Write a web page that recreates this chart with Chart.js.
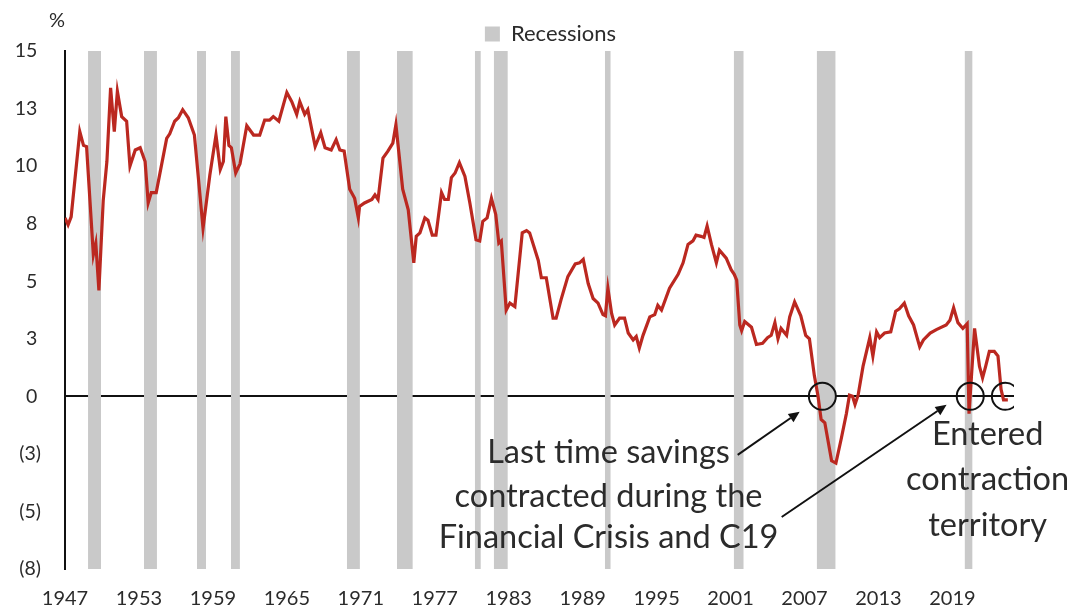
<!DOCTYPE html>
<html>
<head>
<meta charset="utf-8">
<script src="https://cdn.jsdelivr.net/npm/chart.js@4.4.1/dist/chart.umd.min.js"></script>
<style>
  html, body { margin: 0; padding: 0; background: #ffffff; }
  #wrap { position: relative; width: 1071px; height: 610px; }
  canvas { display: block; }
</style>
</head>
<body>
<div id="wrap"><canvas id="chart" width="1071" height="610"></canvas></div>
<script>
// Quarterly-ish readings of the savings rate (%), by decimal year
const years = [
  1947.0, 1947.25, 1947.5, 1948.2, 1948.5, 1948.75, 1949.3, 1949.5, 1949.75, 1950.1,
  1950.4, 1950.7, 1951.0, 1951.25, 1951.6, 1952.0, 1952.27, 1952.7, 1953.1, 1953.5,
  1953.75, 1954.0, 1954.4, 1955.25, 1955.5, 1955.9, 1956.2, 1956.55, 1957.0, 1957.5,
  1958.2, 1958.75, 1959.25, 1959.6, 1959.85, 1960.05, 1960.3, 1960.5, 1960.85, 1961.2,
  1961.75, 1962.3, 1962.8, 1963.2, 1963.6, 1963.9, 1964.35, 1965.0, 1965.4, 1965.8,
  1966.05, 1966.45, 1966.7, 1967.3, 1967.75, 1968.1, 1968.6, 1969.0, 1969.3, 1969.65,
  1970.1, 1970.5, 1970.8, 1970.9, 1971.3, 1971.9, 1972.15, 1972.4, 1972.8, 1973.2,
  1973.6, 1973.85, 1974.4, 1974.85, 1975.3, 1975.5, 1975.8, 1976.2, 1976.45, 1976.8,
  1977.1, 1977.55, 1977.8, 1978.1, 1978.35, 1978.65, 1979.0, 1979.45, 1979.85, 1980.35,
  1980.65, 1980.9, 1981.25, 1981.6, 1981.95, 1982.2, 1982.4, 1982.8, 1983.1, 1983.5,
  1984.1, 1984.45, 1984.7, 1985.4, 1985.65, 1986.05, 1986.6, 1986.85, 1987.25, 1987.8,
  1988.4, 1988.75, 1989.05, 1989.45, 1989.85, 1990.25, 1990.65, 1990.85, 1991.05, 1991.35,
  1991.6, 1992.0, 1992.4, 1992.7, 1993.1, 1993.35, 1993.6, 1993.9, 1994.45, 1994.85,
  1995.1, 1995.4, 1996.05, 1996.75, 1997.15, 1997.55, 1997.95, 1998.2, 1998.6, 1998.85,
  1999.1, 1999.45, 1999.85, 2000.1, 2000.65, 2001.05, 2001.3, 2001.5, 2001.75, 2001.9,
  2002.15, 2002.7, 2003.1, 2003.6, 2004.0, 2004.3, 2004.6, 2004.85, 2005.1, 2005.55,
  2005.8, 2006.2, 2006.7, 2007.1, 2007.4, 2007.8, 2008.1, 2008.35, 2008.65, 2009.2,
  2009.55, 2010.0, 2010.4, 2010.65, 2010.9, 2011.1, 2011.35, 2011.75, 2012.3, 2012.55,
  2012.85, 2013.1, 2013.5, 2014.0, 2014.4, 2014.7, 2015.1, 2015.45, 2015.85, 2016.35,
  2016.65, 2017.2, 2017.7, 2018.5, 2018.8, 2019.1, 2019.45, 2019.85, 2020.2, 2020.35,
  2020.8, 2021.2, 2021.45, 2021.7, 2022.0, 2022.4, 2022.7, 2022.95, 2023.15, 2023.5
];
const savingsRate = [
  7.75, 7.45, 7.8, 11.5, 10.9, 10.85, 6.15, 6.65, 4.6, 8.5,
  10.2, 13.4, 11.5, 13.25, 12.15, 11.95, 10.0, 10.7, 10.8, 10.2,
  8.4, 8.85, 8.85, 11.2, 11.4, 11.95, 12.1, 12.45, 12.1, 11.35,
  7.3, 9.6, 11.35, 9.85, 10.2, 12.15, 10.9, 10.8, 9.7, 10.1,
  11.75, 11.35, 11.35, 12.0, 12.0, 12.15, 11.95, 13.2, 12.8, 12.25,
  12.8, 12.25, 12.45, 10.85, 11.45, 10.8, 10.7, 11.15, 10.7, 10.65,
  9.0, 8.6, 7.75, 8.25, 8.4, 8.55, 8.75, 8.55, 10.35, 10.65,
  11.0, 11.8, 9.0, 8.1, 5.8, 6.95, 7.1, 7.75, 7.65, 7.0,
  7.0, 8.85, 8.55, 8.55, 9.5, 9.7, 10.15, 9.55, 8.4, 6.8,
  6.75, 7.6, 7.75, 8.6, 7.9, 6.65, 6.75, 3.75, 4.05, 3.9,
  7.1, 7.2, 7.1, 5.9, 5.15, 5.15, 3.4, 3.4, 4.2, 5.2,
  5.75, 5.8, 5.95, 4.9, 4.25, 4.05, 3.55, 3.5, 4.7, 3.6,
  3.1, 3.4, 3.4, 2.75, 2.45, 2.6, 2.1, 2.65, 3.45, 3.55,
  3.95, 3.75, 4.7, 5.3, 5.8, 6.6, 6.75, 7.0, 6.95, 6.9,
  7.4, 6.6, 5.8, 6.35, 6.0, 5.5, 5.3, 5.05, 3.1, 2.85,
  3.25, 3.0, 2.25, 2.3, 2.55, 2.65, 3.2, 2.5, 2.95, 2.65,
  3.45, 4.1, 3.5, 2.65, 2.5, 0.9, 0.0, -1.0, -1.15, -2.8,
  -2.9, -1.8, -0.75, 0.05, 0.0, -0.35, 0.05, 1.3, 2.55, 1.75,
  2.8, 2.55, 2.75, 2.8, 3.7, 3.8, 4.05, 3.5, 3.1, 2.15,
  2.45, 2.75, 2.9, 3.1, 3.3, 3.85, 3.2, 2.95, 3.15, -0.75,
  2.95, 1.3, 0.8, 1.3, 1.95, 1.95, 1.75, 0.3, -0.15, -0.15
];

// Recession periods (decimal years)
const recessionStarts = [1948.87, 1953.41, 1957.71, 1960.46, 1969.87, 1973.93, 1980.25, 1981.79, 1990.8, 2001.26, 2007.99, 2019.99];
const recessionEnds   = [1949.92, 1954.46, 1958.44, 1961.19, 1970.93, 1975.22, 1980.74, 1982.93, 1991.28, 2002.07, 2009.53, 2020.64];

// Points where the rate crossed into negative territory
const crossingYears = [2008.45, 2020.45, 2023.3];
const crossingValues = [0, 0, 0];

// Axis ticks
const xTickYears = [1947, 1953, 1959, 1965, 1971, 1977, 1983, 1989, 1995, 2001, 2007, 2013, 2019];
const yTickValues = [-7.5, -5, -2.5, 0, 2.5, 5, 7.5, 10, 12.5, 15];
const yTickLabels = ['(8)', '(5)', '(3)', '0', '3', '5', '8', '10', '13', '15'];

const Y_MIN = -7.5, Y_MAX = 15;
const X_MIN = 1947, X_MAX = 2024;

const RED = '#bb2820';
const GREY = '#c9c9c9';
const INK = '#2b2b2b';
const FONT = 'Lato, "Open Sans", sans-serif';

const seriesPoints = years.map((x, i) => ({ x, y: savingsRate[i] }));

const recessionPoints = [];
recessionStarts.forEach((s, i) => {
  recessionPoints.push({ x: s, y: Y_MAX });
  recessionPoints.push({ x: recessionEnds[i], y: Y_MAX });
  recessionPoints.push({ x: recessionEnds[i], y: null });
});

const crossingPoints = crossingYears.map((x, i) => ({ x, y: crossingValues[i] }));

// Callout text and arrows, placed in data units (year, %)
const callouts = [
  { lines: ['Last time savings', 'contracted during the', 'Financial Crisis and C19'], x: 1991.1, y: [-2.46, -4.33, -6.15] },
  { lines: ['Entered', 'contraction', 'territory'], x: 2021.86, y: [-1.67, -3.63, -5.59] }
];
const arrows = [
  { from: [2001.58, -2.54], to: [2006.61, -0.67] },
  { from: [2005.15, -5.24], to: [2018.53, -0.37] }
];

// Nudges the legend so it sits centred over the plot, slightly right
const legendShift = {
  id: 'legendShift',
  afterLayout(chart) {
    const l = chart.legend;
    if (l) { l.left = chart.chartArea.left + 22; l.right = chart.chartArea.right; }
  }
};

const annotationPlugin = {
  id: 'calloutText',
  afterDraw(chart) {
    const { ctx, scales: { x, y } } = chart;
    ctx.save();
    // unit label above the y axis
    ctx.fillStyle = INK;
    ctx.font = '20px ' + FONT;
    ctx.textAlign = 'center';
    ctx.textBaseline = 'middle';
    ctx.fillText('%', 57, 21);

    // arrows
    ctx.strokeStyle = '#111';
    ctx.fillStyle = '#111';
    ctx.lineWidth = 2;
    arrows.forEach(a => {
      const x0 = x.getPixelForValue(a.from[0]), y0 = y.getPixelForValue(a.from[1]);
      const x1 = x.getPixelForValue(a.to[0]), y1 = y.getPixelForValue(a.to[1]);
      const ang = Math.atan2(y1 - y0, x1 - x0);
      const head = 11, half = 5;
      const bx = x1 - head * Math.cos(ang), by = y1 - head * Math.sin(ang);
      ctx.beginPath();
      ctx.moveTo(x0, y0);
      ctx.lineTo(bx, by);
      ctx.stroke();
      ctx.beginPath();
      ctx.moveTo(x1, y1);
      ctx.lineTo(bx + half * Math.sin(ang), by - half * Math.cos(ang));
      ctx.lineTo(bx - half * Math.sin(ang), by + half * Math.cos(ang));
      ctx.closePath();
      ctx.fill();
    });

    // callout text
    ctx.fillStyle = INK;
    ctx.font = '32.5px ' + FONT;
    ctx.textAlign = 'center';
    ctx.textBaseline = 'middle';
    callouts.forEach(c => {
      const px = x.getPixelForValue(c.x);
      c.lines.forEach((t, i) => ctx.fillText(t, px, y.getPixelForValue(c.y[i])));
    });
    ctx.restore();
  }
};

new Chart(document.getElementById('chart'), {
  type: 'line',
  data: {
    datasets: [
      {
        label: 'Savings rate',
        data: seriesPoints,
        borderColor: RED,
        backgroundColor: RED,
        borderWidth: 3.2,
        pointRadius: 0,
        tension: 0,
        order: 1
      },
      {
        label: 'Circles',
        data: crossingPoints,
        showLine: false,
        pointRadius: 13.5,
        pointBorderWidth: 2,
        pointBorderColor: '#111',
        pointBackgroundColor: 'rgba(0,0,0,0)',
        order: 0
      },
      {
        label: 'Recessions',
        data: recessionPoints,
        borderWidth: 0,
        borderColor: GREY,
        backgroundColor: GREY,
        pointRadius: 0,
        spanGaps: false,
        fill: { value: Y_MIN },
        order: 2
      }
    ]
  },
  options: {
    responsive: false,
    animation: false,
    maintainAspectRatio: false,
    layout: { padding: { top: 21, right: 57, bottom: 0, left: 0 } },
    plugins: {
      tooltip: { enabled: false },
      legend: {
        position: 'top',
        align: 'center',
        maxHeight: 30,
        labels: {
          filter: item => item.text === 'Recessions',
          boxWidth: 15,
          boxHeight: 15,
          padding: 2,
          color: INK,
          font: { family: FONT, size: 22 }
        }
      }
    },
    scales: {
      x: {
        type: 'linear',
        min: X_MIN,
        max: X_MAX,
        afterBuildTicks: s => { s.ticks = xTickYears.map(v => ({ value: v })); },
        afterFit: s => { s.height = 41; },
        grid: { display: false, drawTicks: false },
        border: { display: false },
        ticks: {
          color: INK,
          padding: 18,
          maxRotation: 0,
          autoSkip: false,
          font: { family: FONT, size: 20 },
          callback: v => String(v)
        }
      },
      y: {
        type: 'linear',
        min: Y_MIN,
        max: Y_MAX,
        z: 1,
        afterBuildTicks: s => { s.ticks = yTickValues.map(v => ({ value: v })); },
        afterFit: s => { s.width = 65; },
        grid: {
          drawTicks: false,
          color: c => (c.tick && c.tick.value === 0 ? '#111' : 'rgba(0,0,0,0)'),
          lineWidth: 2
        },
        border: { display: true, color: '#111', width: 2 },
        ticks: {
          color: INK,
          padding: 24,
          font: { family: FONT, size: 19.5 },
          callback: v => {
            const label = yTickLabels[yTickValues.indexOf(v)];
            return label.startsWith('(') ? label : label + '\u2009\u200a';
          }
        }
      }
    }
  },
  plugins: [legendShift, annotationPlugin]
});
</script>
</body>
</html>
